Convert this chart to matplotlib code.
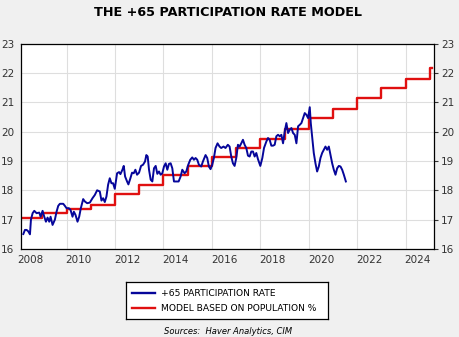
import matplotlib
matplotlib.use("Agg")
import matplotlib.pyplot as plt
from matplotlib.lines import Line2D
import numpy as np

# ---------------- data ----------------
part_years = [
    2008.215, 2008.284, 2008.352, 2008.421, 2008.490, 2008.531, 2008.600, 2008.668, 2008.764, 2008.874,
    2008.929, 2009.011, 2009.080, 2009.149, 2009.217, 2009.286, 2009.341, 2009.423, 2009.519, 2009.588,
    2009.657, 2009.725, 2009.863, 2009.931, 2010.000, 2010.096, 2010.165, 2010.247, 2010.302, 2010.371,
    2010.453, 2010.522, 2010.590, 2010.687, 2010.755, 2010.851, 2010.961, 2011.071, 2011.167, 2011.263,
    2011.373, 2011.442, 2011.510, 2011.579, 2011.648, 2011.716, 2011.785, 2011.854, 2011.922, 2011.991,
    2012.087, 2012.169, 2012.224, 2012.307, 2012.362, 2012.417, 2012.499, 2012.554, 2012.636, 2012.705,
    2012.774, 2012.842, 2012.911, 2012.993, 2013.076, 2013.158, 2013.240, 2013.295, 2013.350, 2013.405,
    2013.474, 2013.542, 2013.611, 2013.680, 2013.748, 2013.817, 2013.886, 2013.954, 2014.023, 2014.092,
    2014.160, 2014.229, 2014.298, 2014.366, 2014.435, 2014.531, 2014.627, 2014.710, 2014.778, 2014.874,
    2014.943, 2015.025, 2015.108, 2015.190, 2015.259, 2015.327, 2015.396, 2015.465, 2015.561, 2015.630,
    2015.739, 2015.808, 2015.877, 2015.945, 2016.014, 2016.083, 2016.151, 2016.234, 2016.316, 2016.385,
    2016.481, 2016.563, 2016.659,
    2016.731, 2016.800, 2016.869, 2016.938, 2017.007, 2017.076, 2017.145, 2017.214, 2017.283, 2017.352,
    2017.421, 2017.490, 2017.559, 2017.628, 2017.697, 2017.766, 2017.834, 2017.903, 2018.000, 2018.083,
    2018.152, 2018.248, 2018.317, 2018.386, 2018.455, 2018.524, 2018.593, 2018.662, 2018.731, 2018.800,
    2018.869, 2018.938, 2019.007, 2019.076, 2019.145, 2019.214, 2019.283, 2019.352, 2019.421, 2019.490,
    2019.559, 2019.628, 2019.697, 2019.766, 2019.834, 2019.903, 2019.972, 2020.041, 2020.083, 2020.152,
    2020.207, 2020.276, 2020.345, 2020.414, 2020.483, 2020.552, 2020.621, 2020.690, 2020.759, 2020.828,
    2020.897, 2020.966, 2021.034, 2021.103, 2021.172, 2021.241, 2021.310, 2021.379, 2021.448, 2021.531,
]
part_rate = [
    16.51, 16.65, 16.65, 16.60, 16.50, 17.00, 17.22, 17.30, 17.22, 17.24,
    17.10, 17.30, 17.10, 16.93, 17.07, 16.93, 17.10, 16.82, 17.00, 17.27,
    17.47, 17.54, 17.54, 17.47, 17.39, 17.39, 17.33, 17.10, 17.27, 17.16,
    16.93, 17.10, 17.39, 17.70, 17.62, 17.56, 17.58, 17.73, 17.84, 18.00,
    17.96, 17.65, 17.73, 17.60, 17.79, 18.19, 18.41, 18.24, 18.24, 18.05,
    18.58, 18.62, 18.55, 18.70, 18.83, 18.47, 18.30, 18.20, 18.41, 18.60,
    18.58, 18.70, 18.53, 18.60, 18.83, 18.87, 18.98, 19.20, 19.15, 18.70,
    18.36, 18.30, 18.75, 18.83, 18.56, 18.64, 18.53, 18.58, 18.81, 18.92,
    18.70, 18.90, 18.92, 18.75, 18.30, 18.30, 18.30, 18.47, 18.70, 18.58,
    18.64, 18.87, 19.04, 19.12, 19.04, 19.10, 19.04, 18.87, 18.81, 18.98,
    19.20, 19.10, 18.81, 18.72, 18.87, 19.10, 19.44, 19.60, 19.49, 19.44,
    19.49, 19.44, 19.55,
    19.49, 19.15, 18.92, 18.83, 19.10, 19.55, 19.49, 19.60, 19.72, 19.55,
    19.44, 19.18, 19.15, 19.32, 19.32, 19.15, 19.27, 19.06, 18.83, 19.10,
    19.44, 19.66, 19.78, 19.72, 19.52, 19.52, 19.55, 19.84, 19.89, 19.84,
    19.89, 19.60, 20.00, 20.29, 19.95, 20.06, 20.12, 19.95, 19.89, 19.60,
    20.18, 20.23, 20.29, 20.46, 20.63, 20.57, 20.46, 20.83, 20.29, 19.72,
    19.27, 18.92, 18.64, 18.81, 19.10, 19.27, 19.38, 19.49, 19.38, 19.49,
    19.21, 18.92, 18.70, 18.53, 18.75, 18.83, 18.81, 18.70, 18.53, 18.30,
]

model_years = [2008, 2009, 2010, 2011, 2012, 2013, 2014, 2015, 2016, 2017,
               2018, 2019, 2020, 2021, 2022, 2023, 2024, 2025, 2025.1]
model_level = [17.05, 17.23, 17.37, 17.50, 17.88, 18.18, 18.52, 18.83, 19.14, 19.45,
               19.76, 20.10, 20.46, 20.77, 21.13, 21.47, 21.78, 22.16, 22.16]

year_labels = ["2008", "2010", "2012", "2014", "2016", "2018", "2020", "2022", "2024"]
y_ticks = [16, 17, 18, 19, 20, 21, 22, 23]

title = "THE +65 PARTICIPATION RATE MODEL"
legend_labels = ["+65 PARTICIPATION RATE", "MODEL BASED ON POPULATION %"]
source_text = "Sources:  Haver Analytics, CIM"

# ---------------- style ----------------
W, H = 459, 337
DPI = 100
BG = "#f0f0f0"
BLUE = "#06069a"
RED = "#e01010"
GRID = "#dedede"

fig = plt.figure(figsize=(W / DPI, H / DPI), dpi=DPI, facecolor=BG)
plt.rcParams["font.family"] = ["DejaVu Sans"]

left, right, top, bottom = 21, 434, 43.5, 249
ax = fig.add_axes([left / W, 1 - bottom / H, (right - left) / W, (bottom - top) / H])
ax.set_facecolor("white")

ax.plot(part_years, part_rate, color=BLUE, lw=1.4, zorder=3, solid_joinstyle="round")
ax.step(model_years, model_level, where="post", color=RED, lw=1.7, zorder=2)

ax.set_xlim(2008.12, 2025.17)
ax.set_ylim(16, 23)

# gridlines at year start every 2 years; labels at mid-year
grid_years = [int(s) for s in year_labels]
ax.set_xticks([g for g in grid_years if 2008.12 < g < 2025.17])
ax.set_xticklabels([])
ax.set_xticks([int(s) + 0.5 for s in year_labels], minor=True)
ax.set_xticklabels(year_labels, minor=True)
ax.tick_params(axis="x", which="major", length=0)
ax.tick_params(axis="x", which="minor", length=0, pad=4, labelsize=7.5, colors="#333333")
ax.grid(True, axis="x", which="major", color=GRID, lw=0.8)

ax.set_yticks(y_ticks)
ax.set_yticklabels([str(v) for v in y_ticks])
ax.tick_params(axis="y", which="both", left=False, right=True, labelleft=True, labelright=True,
               direction="out", length=3, pad=2, labelsize=7.5, colors="#333333")
ax.grid(True, axis="y", color=GRID, lw=0.8)
ax.set_axisbelow(True)
for sp in ax.spines.values():
    sp.set_color("black")
    sp.set_linewidth(0.9)

# title
fig.text(228 / W, 1 - 12.5 / H, title, ha="center", va="center",
         fontsize=9.2, fontweight="bold", color="black")

# legend box
lx0, lx1, ly0, ly1 = 126, 328, 282, 319
legax = fig.add_axes([lx0 / W, 1 - ly1 / H, (lx1 - lx0) / W, (ly1 - ly0) / H])
legax.set_xlim(lx0, lx1)
legax.set_ylim(ly1, ly0)
legax.set_xticks([])
legax.set_yticks([])
legax.set_facecolor("white")
for sp in legax.spines.values():
    sp.set_color("black")
    sp.set_linewidth(0.9)
for i, (lab, col) in enumerate(zip(legend_labels, [BLUE, RED])):
    yy = 293.5 + i * 15
    legax.add_line(Line2D([132, 155], [yy, yy], color=col, lw=1.7))
    legax.text(161, yy, lab, va="center", ha="left", fontsize=6.6, color="black")

fig.text(228 / W, 1 - 331 / H, source_text, ha="center", va="center",
         fontsize=6, style="italic", color="black")

fig.savefig("out.png", dpi=DPI, facecolor=BG)
